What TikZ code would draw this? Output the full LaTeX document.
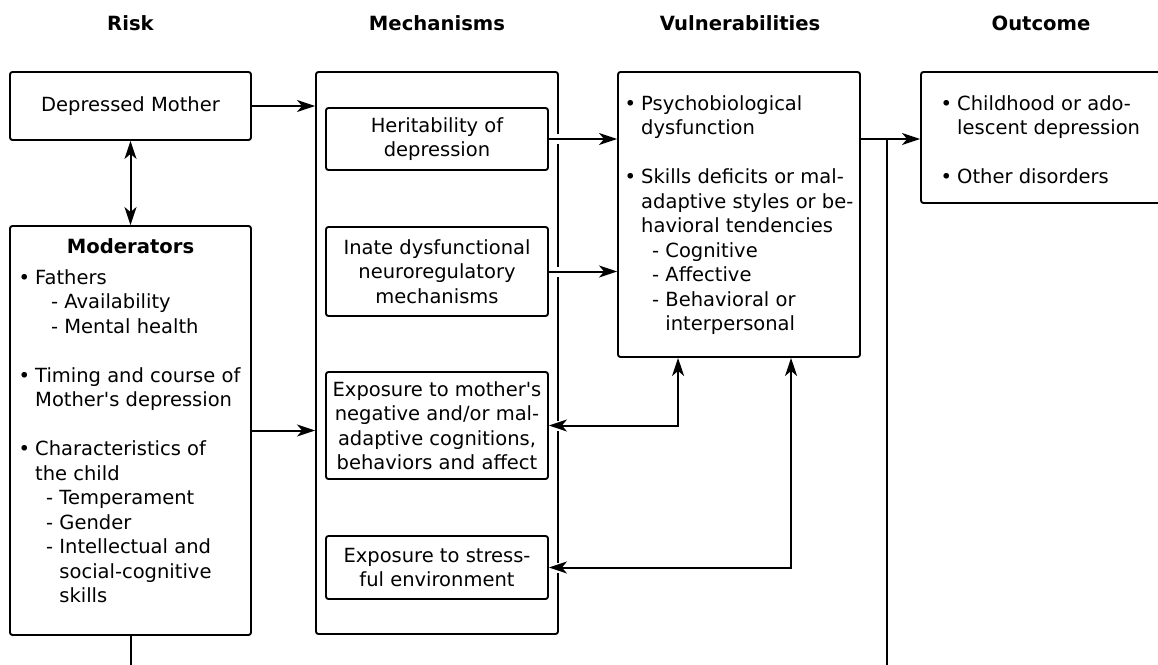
\documentclass[tikz,border=0pt]{standalone}
\usepackage{fontspec}
\newfontfamily\dvs{DejaVu Sans}
\usetikzlibrary{arrows.meta,calc}
\newcommand\bul{\llap{\textbullet\hspace{5pt}}}
\newcommand\lineat[2][0pt]{\hbox{\hspace*{#1}#2}}
\begin{document}
\begin{tikzpicture}[x=1pt,y=-1pt,
  box/.style={draw, line width=1.9pt, rounded corners=2.5pt, inner sep=0pt},
  ctext/.style={align=center, font=\dvs\fontsize{19.5}{24.5}\selectfont},
  ltext/.style={inner sep=0pt, anchor=base west, font=\dvs\fontsize{19.5}{24.5}\selectfont},
  head/.style={inner sep=0pt, anchor=base, font=\dvs\bfseries\fontsize{19.6}{24}\selectfont},
  plain/.style={line width=2pt},
  conn/.style={line width=2pt, -{Stealth[length=18pt,width=12pt,inset=5pt]}},
  dconn/.style={line width=2pt, {Stealth[length=18pt,width=12pt,inset=5pt]}-{Stealth[length=18pt,width=12pt,inset=5pt]}},
]
\useasboundingbox (0,0) rectangle (1158,664);
\clip (0,0) rectangle (1158,664);

% headers
\node[head] (hrisk) at (130.5,30) {Risk};
\node[head] (hmech) at (437,30) {Mechanisms};
\node[head] (hvul) at (740,30) {Vulnerabilities};
\node[head] (hout) at (1041,30) {Outcome};

% risk column
\node[box, ctext, minimum width=241pt, minimum height=68pt] (dm) at (130.5,106) {Depressed Mother};
\node[box, minimum width=241pt, minimum height=409pt] (mod) at (130.5,430.5) {};
\node[head] (modt) at (130.5,253) {Moderators};
\node[ltext] (modtx) at (35,284) {\vtop{%
\lineat{\bul Fathers}
\lineat[16pt]{- Availability}
\lineat[16pt]{- Mental health}
\lineat{}
\lineat{\bul Timing and course of}
\lineat{Mother's depression}
\lineat{}
\lineat{\bul Characteristics of}
\lineat{the child}
\lineat[11pt]{- Temperament}
\lineat[11pt]{- Gender}
\lineat[11pt]{- Intellectual and}
\lineat[11pt]{\phantom{- }social-cognitive}
\lineat[11pt]{\phantom{- }skills}}};

% mechanisms column
\node[box, minimum width=242pt, minimum height=562pt] (mech) at (437,353) {};
\node[box, ctext, minimum width=222pt, minimum height=62pt] (her) at (437,139) {Heritability of\\depression};
\node[box, ctext, minimum width=222pt, minimum height=89pt] (ina) at (437,271.5) {Inate dysfunctional\\neuroregulatory\\mechanisms};
\node[box, ctext, minimum width=222pt, minimum height=107pt] (expm) at (437,425.5) {Exposure to mother's\\negative and/or mal-\\adaptive cognitions,\\behaviors and affect};
\node[box, ctext, minimum width=222pt, minimum height=63pt] (exps) at (437,567.5) {Exposure to stress-\\ful environment};

% vulnerabilities column
\node[box, minimum width=242pt, minimum height=285pt] (vuln) at (739,214.5) {};
\node[ltext] (vultx) at (641,110) {\vtop{%
\lineat{\bul Psychobiological}
\lineat{dysfunction}
\lineat{}
\lineat{\bul Skills deficits or mal-}
\lineat{adaptive styles or be-}
\lineat{havioral tendencies}
\lineat[11pt]{- Cognitive}
\lineat[11pt]{- Affective}
\lineat[11pt]{- Behavioral or}
\lineat[11pt]{\phantom{- }interpersonal}}};

% outcome column
\node[box, minimum width=241pt, minimum height=131pt] (outc) at (1041.5,137.5) {};
\node[ltext] (outtx) at (957,110) {\vtop{%
\lineat{\bul Childhood or ado-}
\lineat{lescent depression}
\lineat{}
\lineat{\bul Other disorders}}};

% gaps where connectors cross the mechanisms border
\foreach \n in {her,ina,expm,exps}
  \fill[white] ($(\n.east -| mech.east)+(-4,-5)$) rectangle ($(\n.east -| mech.east)+(4,5)$);

% connectors
\draw[dconn] (dm.south) -- (mod.north);
\draw[conn] (dm.east) -- (dm.east -| mech.west);
\draw[conn] (mod.east) -- (mod.east -| mech.west);
\coordinate (mbot) at (130.5,690);
\draw[plain] (mod.south) -- (mbot);
\draw[conn] (her.east) -- (her.east -| vuln.west);
\draw[conn] (ina.east) -- (ina.east -| vuln.west);
\coordinate (jn) at (887,139);
\coordinate (jbot) at (887,690);
\draw[conn] (her.east -| vuln.east) -- (her.east -| outc.west);
\draw[plain] (jn) -- (jbot);
\draw[dconn] (expm.east) -| ([xshift=61pt]vuln.south west);
\draw[dconn] (exps.east) -| ([xshift=174pt]vuln.south west);
\end{tikzpicture}
\end{document}
